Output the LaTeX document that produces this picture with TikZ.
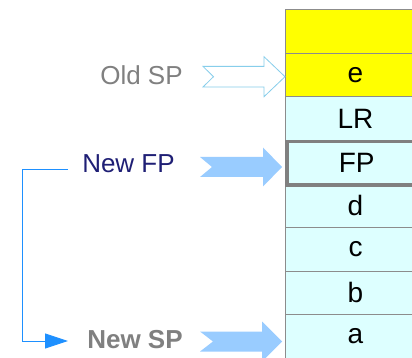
\documentclass[tikz,border=0pt]{standalone}
\usepackage{fontspec}
\setmainfont{Liberation Sans}
\usetikzlibrary{arrows.meta}
\definecolor{cellcyan}{HTML}{DDFFFF}
\definecolor{cellyellow}{HTML}{FFFF00}
\definecolor{cellline}{HTML}{8C8C8C}
\definecolor{fpline}{HTML}{808080}
\definecolor{arrowfill}{HTML}{99CCFF}
\definecolor{arrowline}{HTML}{87CEEB}
\definecolor{navytext}{HTML}{1F1F75}
\definecolor{graytext}{HTML}{808080}
\definecolor{linkblue}{HTML}{1E90FF}
\tikzset{
  cell/.style={draw=cellline, line width=1pt, fill=cellcyan, minimum width=140pt,
    minimum height=43.6pt, inner sep=0pt, anchor=north west,
    font=\fontsize{28}{28}\selectfont},
  lbl/.style={inner sep=0pt, font=\fontsize{26}{26}\selectfont},
  bracket/.style={draw=linkblue, line width=0.9pt,
    -{Triangle[length=23pt,width=15pt,fill=linkblue]}},
}
\newcommand{\chevarrow}[8]{% tail, notch, headbase, tip, cy, body half, head half, style
  \path[#8] (#1,#5-#6) -- (#3,#5-#6) -- (#3,#5-#7) -- (#4,#5) -- (#3,#5+#7)
    -- (#3,#5+#6) -- (#1,#5+#6) -- (#2,#5) -- cycle;}
\begin{document}
\begin{tikzpicture}[x=1pt,y=-1pt]
\useasboundingbox (0,0) rectangle (412,358);
\clip (0,0) rectangle (412,358);
\fill[white] (0,0) rectangle (412,358);
% stack cells
\node[cell, fill=cellyellow] (top) at (285,9) {};
\node[cell, fill=cellyellow] (e) at (285,52.6) {e};
\node[cell] (lr) at (285,96.2) {LR};
\node[cell] (d) at (285,183.4) {d};
\node[cell] (c) at (285,227) {c};
\node[cell] (b) at (285,270.6) {b};
\node[cell] (a) at (285,314.2) {a};
\node[cell, draw=fpline, line width=3.5pt] (fp) at (285,139.8) {FP};
% labels
\node[lbl, text=graytext] (oldsp) at (141.5,75) {Old SP};
\node[lbl, text=navytext] (newfp) at (128.5,163.5) {New FP};
\node[lbl, text=graytext, font=\fontsize{26}{26}\selectfont\bfseries] (newsp) at (135,339.5) {New SP};
% pointer arrows
\chevarrow{203}{213.5}{264}{285}{76.7}{10.3}{20}{draw=arrowline, line width=0.8pt, fill=white}
\chevarrow{200}{212}{263}{282}{167}{10}{19.5}{fill=arrowfill}
\chevarrow{200}{213}{262}{282}{341.5}{10}{20}{fill=arrowfill}
% bracket connector
\coordinate (bstart) at (68,169);
\coordinate (bend) at (68,341);
\draw[bracket] (bstart) -- (22.3,169) |- (bend);
\end{tikzpicture}
\end{document}
